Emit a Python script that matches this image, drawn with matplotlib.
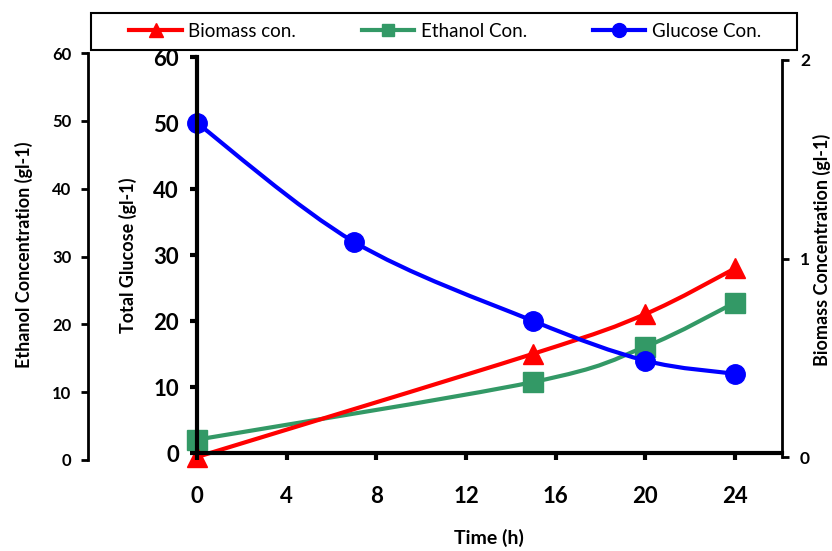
import numpy as np
import matplotlib
matplotlib.use('Agg')
import matplotlib.pyplot as plt
from matplotlib.path import Path
from matplotlib.patches import PathPatch, Rectangle
from matplotlib.lines import Line2D

plt.rcParams['font.family'] = ['Lato', 'DejaVu Sans']

# data
glucose_t = [0, 7, 15, 20, 24]
glucose = [50, 32, 20, 14, 12]
ethanol_t = [0, 15, 20, 24]
ethanol = [3.0, 11.5, 16.7, 23.2]
biomass_t = [0, 15, 20, 24]
biomass = [0.0, 0.52, 0.72, 0.95]
x_ticks = [0, 4, 8, 12, 16, 20, 24]

RED = '#ff0000'
GREEN = '#339966'
BLUE = '#0000ff'

W, H = 832, 551


def box(x0, y0, x1, y1):
    # pixel box (top-left origin) -> figure rect
    return [x0 / W, 1 - y1 / H, (x1 - x0) / W, (y1 - y0) / H]


### --- Excel style smoothed line --- ###
def smooth_path(x, y):
    pts = np.column_stack([x, y]).astype(float)
    n = len(pts)
    verts = [pts[0]]
    codes = [Path.MOVETO]
    for i in range(n - 1):
        p0 = pts[i - 1] if i > 0 else pts[i]
        p3 = pts[i + 2] if i + 2 < n else pts[i + 1]
        c1 = pts[i] + (pts[i + 1] - p0) / 6
        c2 = pts[i + 1] - (p3 - pts[i]) / 6
        verts += [c1, c2, pts[i + 1]]
        codes += [Path.CURVE4] * 3
    return Path(verts, codes)


def draw_series(ax, x, y, color, marker, ms):
    ax.add_patch(PathPatch(smooth_path(x, y), fill=False, edgecolor=color,
                           lw=3, capstyle='round', joinstyle='round', clip_on=False))
    ax.plot(x, y, linestyle='none', marker=marker, color=color, ms=ms, clip_on=False)


fig = plt.figure(figsize=(W / 100, H / 100), dpi=100)

# outer ethanol axis
ax_eth = fig.add_axes(box(88, 53, 782, 460))
ax_eth.set_facecolor('none')
for s in ['top', 'right', 'bottom']:
    ax_eth.spines[s].set_visible(False)
ax_eth.spines['left'].set_linewidth(2)
ax_eth.set_xlim(-(197 - 88) / 22.417, 26.1)
ax_eth.set_ylim(0, 60)
ax_eth.set_yticks(range(0, 61, 10))
ax_eth.set_xticks([])
ax_eth.tick_params(axis='y', direction='out', length=5, width=2, pad=7, labelsize=12)
for lab in ax_eth.get_yticklabels():
    lab.set_fontweight('bold')
draw_series(ax_eth, ethanol_t, ethanol, GREEN, 's', 14)

# right biomass axis
ax_bio = fig.add_axes(box(197, 60, 782, 457))
ax_bio.set_facecolor('none')
for s in ['top', 'left', 'bottom']:
    ax_bio.spines[s].set_visible(False)
ax_bio.spines['right'].set_linewidth(2)
ax_bio.set_xlim(0, 26.1)
ax_bio.set_ylim(0, 2)
ax_bio.set_xticks([])
ax_bio.yaxis.tick_right()
ax_bio.set_yticks([0, 1, 2])
ax_bio.tick_params(axis='y', direction='out', length=5, width=2, pad=8, labelsize=12.5)
for lab in ax_bio.get_yticklabels():
    lab.set_fontweight('bold')
draw_series(ax_bio, biomass_t, biomass, RED, '^', 15)

# main glucose axis
ax = fig.add_axes(box(197, 57, 782, 453))
ax.set_facecolor('none')
ax.spines['top'].set_visible(False)
ax.spines['right'].set_visible(False)
ax.spines['left'].set_linewidth(3)
ax.spines['bottom'].set_linewidth(3)
ax.set_xlim(0, 26.1)
ax.set_ylim(0, 60)
ax.set_xticks(x_ticks)
ax.set_yticks(range(0, 61, 10))
ax.tick_params(axis='y', direction='out', length=5, width=3, pad=8, labelsize=16)
ax.tick_params(axis='x', direction='out', length=5, width=3, pad=19, labelsize=16)
for lab in ax.get_xticklabels() + ax.get_yticklabels():
    lab.set_fontweight('bold')
draw_series(ax, glucose_t, glucose, BLUE, 'o', 14)

# axis labels
fig.text(24 / W, 1 - 255 / H, 'Ethanol Concentration (gl-1)', rotation=90,
         ha='center', va='center', fontsize=13, fontweight='bold')
fig.text(128 / W, 1 - 255 / H, 'Total Glucose (gl-1)', rotation=90,
         ha='center', va='center', fontsize=13, fontweight='bold')
fig.text(822 / W, 1 - 250 / H, 'Biomass Concentration (gl-1)', rotation=90,
         ha='center', va='center', fontsize=13, fontweight='bold')
fig.text(489 / W, 1 - 538 / H, 'Time (h)', ha='center', va='center',
         fontsize=14, fontweight='bold')

# legend
handles = [
    Line2D([], [], color=RED, lw=3, marker='^', ms=10),
    Line2D([], [], color=GREEN, lw=3, marker='s', ms=9),
    Line2D([], [], color=BLUE, lw=3, marker='o', ms=10),
]
labels = ['Biomass con.', 'Ethanol Con.', 'Glucose Con.']
fig.patches.append(Rectangle((91 / W, 1 - 50 / H), 706 / W, 37 / H,
                             transform=fig.transFigure, fill=False,
                             edgecolor='black', lw=1.5))
fig.legend(handles, labels, loc='center', bbox_to_anchor=(445 / W, 1 - 31.5 / H),
           ncol=3, frameon=False, fontsize=13.5, handlelength=2.8,
           handletextpad=0.35, columnspacing=3.5)

fig.savefig('out.png', dpi=100)
